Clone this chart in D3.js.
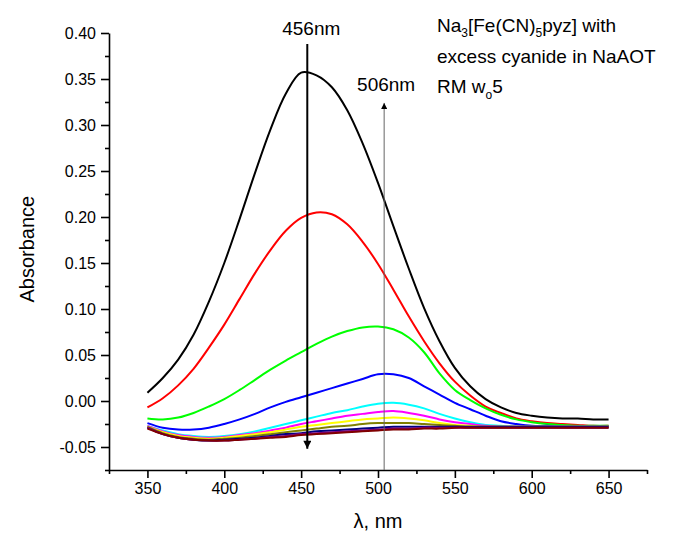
<!DOCTYPE html>
<html>
<head>
<meta charset="utf-8">
<script src="https://cdn.jsdelivr.net/npm/d3@7"></script>
<style>
  body { margin: 0; background: #fff; }
  svg { display: block; font-family: "Liberation Sans", Arial, sans-serif; }
</style>
</head>
<body>
<svg id="chart" width="677" height="534"></svg>
<script>
// wavelength grid, nm
const wavelengths = [350, 360, 370, 380, 390, 400, 410, 420, 430, 440, 450, 460, 470, 480, 490, 500,
  510, 520, 530, 540, 550, 560, 570, 580, 590, 600, 610, 620, 630, 640, 650];

const black = [0.009, 0.025, 0.045, 0.072, 0.108, 0.150, 0.198, 0.248, 0.295, 0.334, 0.357, 0.354, 0.341, 0.316, 0.280, 0.237,
  0.190, 0.144, 0.101, 0.065, 0.036, 0.016, 0.002, -0.007, -0.013, -0.016, -0.018, -0.019, -0.019, -0.020, -0.020];
const red = [-0.007, 0.003, 0.017, 0.035, 0.058, 0.083, 0.111, 0.139, 0.164, 0.185, 0.199, 0.205, 0.203, 0.192, 0.173, 0.149,
  0.121, 0.092, 0.065, 0.041, 0.021, 0.006, -0.006, -0.013, -0.019, -0.022, -0.024, -0.025, -0.026, -0.027, -0.027];
const green = [-0.019, -0.020, -0.018, -0.013, -0.006, 0.002, 0.012, 0.023, 0.034, 0.044, 0.053, 0.062, 0.070, 0.076, 0.080, 0.081,
  0.078, 0.069, 0.053, 0.030, 0.012, 0.001, -0.008, -0.015, -0.020, -0.023, -0.025, -0.026, -0.027, -0.027, -0.027];
const blue = [-0.024, -0.029, -0.031, -0.031, -0.029, -0.025, -0.020, -0.014, -0.007, -0.001, 0.004, 0.009, 0.014, 0.019, 0.024, 0.029,
  0.029, 0.025, 0.016, 0.007, -0.002, -0.009, -0.016, -0.022, -0.025, -0.027, -0.027, -0.028, -0.028, -0.028, -0.028];
const cyan = [-0.027, -0.032, -0.036, -0.038, -0.039, -0.038, -0.036, -0.033, -0.029, -0.025, -0.021, -0.017, -0.013, -0.010, -0.006, -0.003,
  -0.002, -0.004, -0.008, -0.014, -0.019, -0.023, -0.026, -0.027, -0.028, -0.028, -0.028, -0.028, -0.028, -0.028, -0.028];
const magenta = [-0.027, -0.033, -0.037, -0.039, -0.040, -0.039, -0.037, -0.035, -0.032, -0.029, -0.025, -0.022, -0.019, -0.016, -0.014, -0.012,
  -0.011, -0.013, -0.016, -0.020, -0.023, -0.025, -0.027, -0.028, -0.028, -0.028, -0.028, -0.028, -0.028, -0.028, -0.028];
const yellow = [-0.028, -0.034, -0.038, -0.040, -0.041, -0.040, -0.038, -0.036, -0.034, -0.031, -0.028, -0.026, -0.024, -0.022, -0.020, -0.019,
  -0.018, -0.019, -0.021, -0.024, -0.026, -0.027, -0.028, -0.028, -0.028, -0.028, -0.028, -0.028, -0.028, -0.028, -0.028];
const olive = [-0.028, -0.035, -0.039, -0.041, -0.042, -0.041, -0.040, -0.038, -0.036, -0.034, -0.032, -0.030, -0.028, -0.027, -0.025, -0.024,
  -0.024, -0.024, -0.025, -0.026, -0.027, -0.028, -0.028, -0.028, -0.028, -0.028, -0.028, -0.028, -0.028, -0.028, -0.028];
const navy = [-0.029, -0.036, -0.040, -0.042, -0.043, -0.042, -0.041, -0.040, -0.038, -0.036, -0.035, -0.033, -0.032, -0.031, -0.030, -0.029,
  -0.028, -0.028, -0.028, -0.028, -0.028, -0.028, -0.028, -0.028, -0.028, -0.028, -0.028, -0.028, -0.028, -0.028, -0.028];
const purple = [-0.029, -0.036, -0.040, -0.042, -0.043, -0.043, -0.042, -0.041, -0.039, -0.038, -0.036, -0.035, -0.034, -0.033, -0.032, -0.031,
  -0.030, -0.030, -0.029, -0.029, -0.029, -0.029, -0.029, -0.029, -0.029, -0.029, -0.029, -0.029, -0.029, -0.029, -0.029];
const wine = [-0.030, -0.036, -0.040, -0.042, -0.043, -0.043, -0.042, -0.041, -0.040, -0.039, -0.037, -0.036, -0.035, -0.034, -0.033, -0.032,
  -0.031, -0.031, -0.030, -0.030, -0.029, -0.029, -0.029, -0.029, -0.029, -0.029, -0.029, -0.029, -0.029, -0.029, -0.029];

// drawing order = Origin default colour order, last one on top
const seriesList = [black, red, green, blue, cyan, magenta, yellow, olive, navy, purple, wine];
const seriesColors = ["#000000", "#ff0000", "#00ff00", "#0000ff", "#00ffff", "#ff00ff", "#ffff00",
  "#808000", "#000080", "#800080", "#800000"];

const xTicks = [350, 400, 450, 500, 550, 600, 650];
const xMinor = [325, 375, 425, 475, 525, 575, 625, 675];
const yTicks = [-0.05, 0.00, 0.05, 0.10, 0.15, 0.20, 0.25, 0.30, 0.35, 0.40];
const yMinor = [-0.075, -0.025, 0.025, 0.075, 0.125, 0.175, 0.225, 0.275, 0.325, 0.375];

// annotation arrows (nm, absorbance)
const downArrow = { nm: 454, from: 0.388, to: -0.052 };
const upArrow = { nm: 504, from: -0.075, to: 0.324 };

const svg = d3.select("#chart");

const x = d3.scaleLinear().domain([325, 675]).range([109, 647]);
const y = d3.scaleLinear().domain([-0.075, 0.40]).range([470, 33]);

// 坐标轴
svg.append("g")
  .attr("transform", `translate(0,${y(-0.075)})`)
  .call(d3.axisBottom(x).tickValues(xTicks).tickSize(8).tickSizeOuter(0).tickPadding(5).tickFormat(d3.format("d")));
svg.append("g")
  .attr("transform", `translate(0,${y(-0.075)})`)
  .call(d3.axisBottom(x).tickValues(xMinor).tickSize(4).tickSizeOuter(0).tickFormat(""))
  .select(".domain").remove();

svg.append("g")
  .attr("transform", `translate(${x(325)},0)`)
  .call(d3.axisLeft(y).tickValues(yTicks).tickSize(8).tickSizeOuter(0).tickPadding(5).tickFormat(d => d.toFixed(2)));
svg.append("g")
  .attr("transform", `translate(${x(325)},0)`)
  .call(d3.axisLeft(y).tickValues(yMinor).tickSize(4).tickSizeOuter(0).tickFormat(""))
  .select(".domain").remove();

svg.selectAll(".domain, .tick line")
  .attr("stroke", "#000")
  .attr("stroke-width", 1.6);
svg.selectAll(".tick text")
  .attr("font-size", 16)
  .attr("font-family", "Liberation Sans, Arial, sans-serif")
  .attr("fill", "#000");

// axis titles
svg.append("text")
  .attr("x", 378)
  .attr("y", 528)
  .attr("text-anchor", "middle")
  .attr("font-size", 20)
  .text("λ, nm");
svg.append("text")
  .attr("transform", `translate(34,${y(0.165)}) rotate(-90)`)
  .attr("text-anchor", "middle")
  .attr("font-size", 20)
  .text("Absorbance");

// spectra
const line = d3.line()
  .x((d, i) => x(wavelengths[i]))
  .y(d => y(d))
  .curve(d3.curveCatmullRom.alpha(0.5));

svg.append("g")
  .attr("fill", "none")
  .attr("stroke-width", 2)
  .attr("stroke-linejoin", "round")
  .selectAll("path")
  .data(seriesList)
  .join("path")
  .attr("stroke", (d, i) => seriesColors[i])
  .attr("d", line);

// arrow heads
const defs = svg.append("defs");
defs.append("marker")
  .attr("id", "head-big")
  .attr("viewBox", "0 0 10 10")
  .attr("refX", 10).attr("refY", 5)
  .attr("markerUnits", "userSpaceOnUse")
  .attr("markerWidth", 14).attr("markerHeight", 8)
  .attr("orient", "auto")
  .append("path").attr("d", "M0,0L10,5L0,10Z").attr("fill", "#000");
defs.append("marker")
  .attr("id", "head-small")
  .attr("viewBox", "0 0 10 10")
  .attr("refX", 10).attr("refY", 5)
  .attr("markerUnits", "userSpaceOnUse")
  .attr("markerWidth", 11).attr("markerHeight", 6)
  .attr("orient", "auto")
  .append("path").attr("d", "M0,0L10,5L0,10Z").attr("fill", "#000");

svg.append("line")
  .attr("x1", x(downArrow.nm)).attr("x2", x(downArrow.nm))
  .attr("y1", y(downArrow.from)).attr("y2", y(downArrow.to))
  .attr("stroke", "#000")
  .attr("stroke-width", 2)
  .attr("marker-end", "url(#head-big)");

svg.append("line")
  .attr("x1", x(upArrow.nm)).attr("x2", x(upArrow.nm))
  .attr("y1", y(upArrow.from)).attr("y2", y(upArrow.to))
  .attr("stroke", "#666")
  .attr("stroke-width", 1)
  .attr("marker-end", "url(#head-small)");

// labels
svg.append("text")
  .attr("x", x(454) + 4).attr("y", 35)
  .attr("text-anchor", "middle")
  .attr("font-size", 19)
  .text("456nm");
svg.append("text")
  .attr("x", x(504) + 2).attr("y", 91)
  .attr("text-anchor", "middle")
  .attr("font-size", 19)
  .text("506nm");

const note = svg.append("g").attr("font-size", 19);
const l1 = note.append("text").attr("x", 437).attr("y", 32);
l1.append("tspan").text("Na");
l1.append("tspan").attr("font-size", 12).attr("dy", 5).text("3");
l1.append("tspan").attr("dy", -5).text("[Fe(CN)");
l1.append("tspan").attr("font-size", 12).attr("dy", 5).text("5");
l1.append("tspan").attr("dy", -5).text("pyz] with");
note.append("text").attr("x", 437).attr("y", 63).text("excess cyanide in NaAOT");
const l3 = note.append("text").attr("x", 437).attr("y", 93);
l3.append("tspan").text("RM w");
l3.append("tspan").attr("font-size", 12).attr("dy", 6).text("o");
l3.append("tspan").attr("dy", -6).text("5");
</script>
</body>
</html>
